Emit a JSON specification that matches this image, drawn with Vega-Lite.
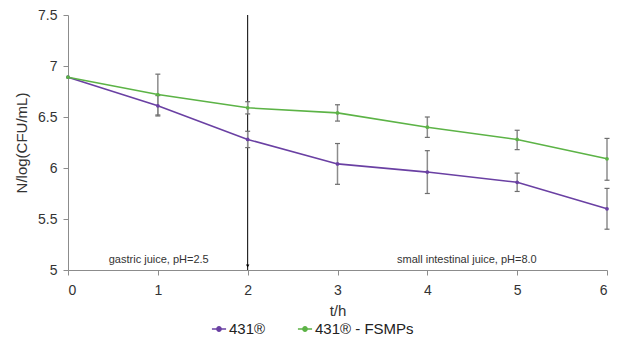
{
  "$schema": "https://vega.github.io/schema/vega-lite/v6.json",
  "width": 539,
  "height": 255,
  "autosize": "none",
  "padding": {"left": 68, "top": 15, "right": 16, "bottom": 74},
  "config": {
    "font": "Liberation Sans",
    "view": {"stroke": null},
    "axis": {"grid": false, "domainColor": "#8c8c8c", "tickColor": "#8c8c8c", "labelColor": "#333333", "titleColor": "#333333", "labelFontSize": 14, "titleFontSize": 15, "titleFontWeight": "normal", "tickSize": 5}
  },
  "datasets": {
    "main": [
      {"t": 0, "series": "431®", "mean": 6.89, "lo": null, "hi": null},
      {"t": 1, "series": "431®", "mean": 6.61, "lo": 6.51, "hi": 6.71},
      {"t": 2, "series": "431®", "mean": 6.28, "lo": 6.2, "hi": 6.36},
      {"t": 3, "series": "431®", "mean": 6.04, "lo": 5.84, "hi": 6.24},
      {"t": 4, "series": "431®", "mean": 5.96, "lo": 5.75, "hi": 6.17},
      {"t": 5, "series": "431®", "mean": 5.86, "lo": 5.77, "hi": 5.95},
      {"t": 6, "series": "431®", "mean": 5.6, "lo": 5.4, "hi": 5.8},
      {"t": 0, "series": "431® - FSMPs", "mean": 6.89, "lo": null, "hi": null},
      {"t": 1, "series": "431® - FSMPs", "mean": 6.72, "lo": 6.52, "hi": 6.92},
      {"t": 2, "series": "431® - FSMPs", "mean": 6.59, "lo": 6.53, "hi": 6.65},
      {"t": 3, "series": "431® - FSMPs", "mean": 6.54, "lo": 6.46, "hi": 6.62},
      {"t": 4, "series": "431® - FSMPs", "mean": 6.4, "lo": 6.3, "hi": 6.5},
      {"t": 5, "series": "431® - FSMPs", "mean": 6.28, "lo": 6.18, "hi": 6.37},
      {"t": 6, "series": "431® - FSMPs", "mean": 6.09, "lo": 5.88, "hi": 6.29}
    ],
    "divider": [{"t": 2, "y1": 5, "y2": 7.5, "arrow": 5.04}],
    "notes": [
      {"t": 1.01, "y": 5.1, "label": "gastric juice, pH=2.5"},
      {"t": 4.44, "y": 5.1, "label": "small intestinal juice, pH=8.0"}
    ]
  },
  "layer": [
    {
      "data": {"name": "divider"},
      "mark": {"type": "rule", "color": "#000000", "strokeWidth": 1},
      "encoding": {
        "x": {"field": "t", "type": "quantitative", "scale": {"domain": [0, 6], "nice": false}},
        "y": {"field": "y1", "type": "quantitative", "scale": {"domain": [5, 7.5], "nice": false}},
        "y2": {"field": "y2"}
      }
    },
    {
      "data": {"name": "divider"},
      "mark": {"type": "point", "shape": "triangle-down", "filled": true, "color": "#000000", "size": 12, "opacity": 1},
      "encoding": {
        "x": {"field": "t", "type": "quantitative"},
        "y": {"field": "arrow", "type": "quantitative"}
      }
    },
    {
      "data": {"name": "main"},
      "transform": [{"filter": "datum.lo != null"}],
      "mark": {"type": "rule", "color": "#8c8c8c", "strokeWidth": 1.5},
      "encoding": {
        "x": {"field": "t", "type": "quantitative"},
        "y": {"field": "lo", "type": "quantitative"},
        "y2": {"field": "hi"}
      }
    },
    {
      "data": {"name": "main"},
      "transform": [{"filter": "datum.lo != null"}],
      "mark": {"type": "tick", "orient": "horizontal", "color": "#6e6e6e", "size": 5, "thickness": 1.2, "opacity": 1},
      "encoding": {
        "x": {"field": "t", "type": "quantitative"},
        "y": {"field": "lo", "type": "quantitative"}
      }
    },
    {
      "data": {"name": "main"},
      "transform": [{"filter": "datum.lo != null"}],
      "mark": {"type": "tick", "orient": "horizontal", "color": "#6e6e6e", "size": 5, "thickness": 1.2, "opacity": 1},
      "encoding": {
        "x": {"field": "t", "type": "quantitative"},
        "y": {"field": "hi", "type": "quantitative"}
      }
    },
    {
      "data": {"name": "main"},
      "mark": {"type": "line", "strokeWidth": 1.6, "point": {"filled": true, "size": 14, "opacity": 1}},
      "encoding": {
        "x": {"field": "t", "type": "quantitative", "axis": {"values": [0, 1, 2, 3, 4, 5, 6], "format": "d", "title": "t/h", "labelPadding": 8, "titlePadding": 6}},
        "y": {"field": "mean", "type": "quantitative", "axis": {"values": [5, 5.5, 6, 6.5, 7, 7.5], "format": "~g", "title": "N/log(CFU/mL)", "titlePadding": 8, "labelPadding": 6}},
        "color": {
          "field": "series", "type": "nominal",
          "scale": {"domain": ["431®", "431® - FSMPs"], "range": ["#6a40a3", "#5cb346"]},
          "legend": {"orient": "none", "legendX": 143, "legendY": 306, "direction": "horizontal", "title": null, "labelFontSize": 15, "labelColor": "#222222", "symbolType": "M-1,0H1M0.3,0A0.3,0.3,0,1,1,-0.3,0A0.3,0.3,0,1,1,0.3,0", "symbolSize": 200, "symbolStrokeWidth": 1.6, "labelOffset": 2, "columnPadding": 28}
        }
      }
    },
    {
      "data": {"name": "notes"},
      "mark": {"type": "text", "fontSize": 11, "color": "#333333", "baseline": "middle"},
      "encoding": {
        "x": {"field": "t", "type": "quantitative"},
        "y": {"field": "y", "type": "quantitative"},
        "text": {"field": "label"}
      }
    }
  ]
}
